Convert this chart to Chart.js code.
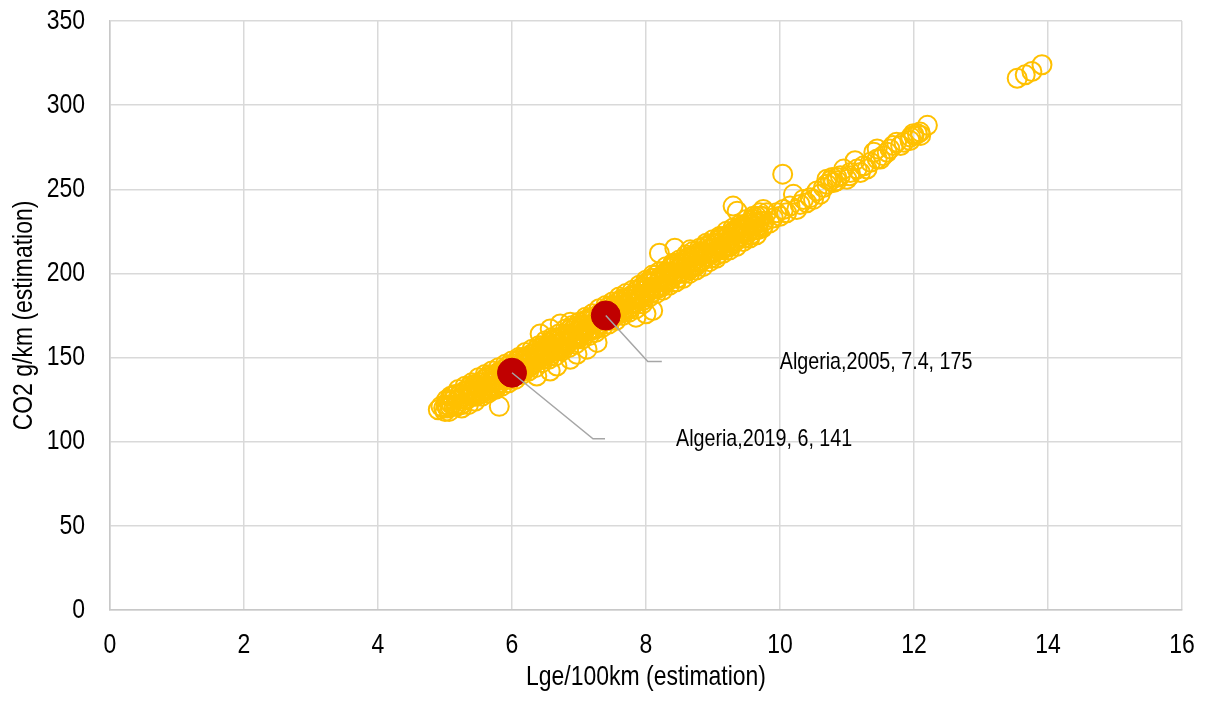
<!DOCTYPE html>
<html>
<head>
<meta charset="utf-8">
<script src="https://cdn.jsdelivr.net/npm/chart.js@4.4.1/dist/chart.umd.min.js"></script>
<style>
  html, body { margin: 0; padding: 0; background: #fff; }
  #wrap { width: 1208px; height: 704px; }
</style>
</head>
<body>
<div id="wrap"><canvas id="scatterChart" width="1208" height="704"></canvas></div>
<script>
// Arial Narrow look: Liberation Sans squeezed horizontally
const FONT = "'Liberation Sans', Arial, sans-serif";
const NARROW = 0.82;
const COLORS = {
  country: "#FFC000",
  highlight: "#C00000",
  grid: "#d9d9d9",
  axis: "#c8c8c8",
  leader: "#a6a6a6",
  text: "#000000",
};

// -------- data (Lge/100km, CO2 g/km)
const fuelX = [
  5.00, 5.05, 5.10, 5.15, 5.20, 5.25, 5.30, 5.35, 5.40, 5.45,
  5.50, 5.55, 5.60, 5.65, 5.70, 5.75, 5.80, 5.85, 5.90, 5.95,
  6.00, 6.05, 6.10, 6.15, 6.20, 6.25, 6.30, 6.35, 6.40, 6.45,
  6.50, 6.55, 6.60, 6.65, 6.70, 6.75, 6.80, 6.85, 6.90, 6.95,
  7.00, 7.05, 7.10, 7.15, 7.20, 7.25, 7.30, 7.35, 7.40, 7.45,
  7.50, 7.55, 7.60, 7.65, 7.70, 7.75, 7.80, 7.85, 7.90, 7.95,
  8.00, 8.05, 8.10, 8.15, 8.20, 8.25, 8.30, 8.35, 8.40, 8.45,
  8.50, 8.55, 8.60, 8.65, 8.70, 8.75, 8.80, 8.85, 8.90, 8.95,
  9.00, 9.05, 9.10, 9.15, 9.20, 9.25, 9.30, 9.35, 9.40, 9.45,
  9.50, 9.55, 9.60, 9.65, 9.70, 9.75, 9.80,
  5.025, 5.075, 5.125, 5.175, 5.225, 5.275, 5.325, 5.375, 5.425, 5.475,
  5.525, 5.575, 5.625, 5.675, 5.725, 5.775, 5.825, 5.875, 5.925, 5.975,
  6.025, 6.075, 6.125, 6.175, 6.225, 6.275, 6.325, 6.375, 6.425, 6.475,
  6.525, 6.575, 6.625, 6.675, 6.725, 6.775, 6.825, 6.875, 6.925, 6.975,
  7.025, 7.075, 7.125, 7.175, 7.225, 7.275, 7.325, 7.375, 7.425, 7.475,
  7.525, 7.575, 7.625, 7.675, 7.725, 7.775, 7.825, 7.875, 7.925, 7.975,
  8.025, 8.075, 8.125, 8.175, 8.225, 8.275, 8.325, 8.375, 8.425, 8.475,
  8.525, 8.575, 8.625, 8.675, 8.725, 8.775, 8.825, 8.875, 8.925, 8.975,
  9.025, 9.075, 9.125, 9.175, 9.225, 9.275, 9.325, 9.375, 9.425, 9.475,
  9.525, 9.575, 9.625, 9.675, 9.725,
  5.012, 5.062, 5.112, 5.162, 5.212, 5.262, 5.312, 5.362, 5.412, 5.462,
  5.512, 5.562, 5.612, 5.662, 5.712, 5.762, 5.812, 5.862, 5.912, 5.962,
  6.012, 6.062, 6.112, 6.162, 6.212, 6.262, 6.312, 6.362, 6.412, 6.462,
  6.512, 6.562, 6.612, 6.662, 6.712, 6.762, 6.812, 6.862, 6.912, 6.962,
  7.012, 7.062, 7.112, 7.162, 7.212, 7.262, 7.312, 7.362, 7.412, 7.462,
  7.512, 7.562, 7.612, 7.662, 7.712, 7.762, 7.812, 7.862, 7.912, 7.962,
  8.012, 8.062, 8.112, 8.162, 8.212, 8.262, 8.312, 8.362, 8.412, 8.462,
  8.512, 8.562, 8.612, 8.662, 8.712, 8.762, 8.812, 8.862, 8.912, 8.962,
  9.012, 9.062, 9.112, 9.162, 9.212, 9.262, 9.312, 9.362, 9.412, 9.462,
  9.512, 9.562, 9.612, 9.662, 9.712, 9.762,
  5.037, 5.087, 5.137, 5.187, 5.237, 5.287, 5.337, 5.387, 5.437, 5.487,
  5.537, 5.587, 5.637, 5.687, 5.737, 5.787, 5.837, 5.887, 5.937, 5.987,
  6.037, 6.087, 6.137, 6.187, 6.237, 6.287, 6.337, 6.387, 6.437, 6.487,
  6.537, 6.587, 6.637, 6.687, 6.737, 6.787, 6.837, 6.887, 6.937, 6.987,
  7.037, 7.087, 7.137, 7.187, 7.237, 7.287, 7.337, 7.387, 7.437, 7.487,
  7.537, 7.587, 7.637, 7.687, 7.737, 7.787, 7.837, 7.887, 7.937, 7.987,
  8.037, 8.087, 8.137, 8.187, 8.237, 8.287, 8.337, 8.387, 8.437, 8.487,
  8.537, 8.587, 8.637, 8.687, 8.737, 8.787, 8.837, 8.887, 8.937, 8.987,
  9.037, 9.087, 9.137, 9.187, 9.237, 9.287, 9.337, 9.387, 9.437, 9.487,
  9.537, 9.587, 9.637, 9.687, 9.737,
  5.20, 5.30, 5.40, 5.50, 5.60, 5.70, 5.80, 5.90, 6.00, 6.10,
  6.20, 6.30, 6.40, 6.50, 6.60, 6.70, 6.80, 6.90, 7.00, 7.10,
  7.20, 7.30, 7.40, 7.50, 7.60, 7.70, 7.80, 7.90, 8.00, 8.10,
  8.20, 8.30, 8.40, 8.50, 8.60, 8.70, 8.80, 8.90, 9.00, 9.10,
  9.20, 9.30, 9.40, 9.50, 9.60, 9.70,
  5.25, 5.35, 5.45, 5.55, 5.65, 5.75, 5.85, 5.95, 6.05, 6.15,
  6.25, 6.35, 6.45, 6.55, 6.65, 6.75, 6.85, 6.95, 7.05, 7.15,
  7.25, 7.35, 7.45, 7.55, 7.65, 7.75, 7.85, 7.95, 8.05, 8.15,
  8.25, 8.35, 8.45, 8.55, 8.65, 8.75, 8.85, 8.95, 9.05, 9.15,
  9.25, 9.35, 9.45, 9.55, 9.65,
  4.90, 4.94, 4.98, 5.81, 6.37, 6.57, 6.67, 6.87, 6.97, 7.12,
  7.27, 6.42, 6.57, 6.72, 6.87, 7.06, 7.85, 8.00, 8.10, 8.20,
  8.43, 8.66, 9.30, 9.36, 9.75, 10.04, 10.20,
  9.85, 9.90, 9.95, 10.00, 10.05, 10.10, 10.15, 10.25, 10.30, 10.35,
  10.40, 10.45, 10.50, 10.55, 10.60, 10.65, 10.70, 10.70, 10.75, 10.78,
  10.80, 10.85, 10.85, 10.90, 10.95, 11.00, 11.04, 11.05, 11.12, 11.15,
  11.20, 11.25, 11.30, 11.35, 11.40, 11.45, 11.45, 11.50, 11.54, 11.60,
  11.64, 11.69, 11.74, 11.80, 11.85, 11.94, 11.95, 11.99, 12.00, 12.05,
  12.09, 12.10, 12.20,
  13.54, 13.66, 13.76, 13.91,
];
const co2Y = [
  118, 124, 122, 128, 125, 122, 130, 129, 127, 134,
  128, 135, 133, 139, 136, 133, 141, 140, 138, 145,
  139, 145, 143, 150, 147, 144, 152, 151, 149, 157,
  151, 157, 155, 161, 158, 156, 164, 163, 161, 168,
  162, 169, 167, 173, 170, 167, 176, 175, 173, 180,
  174, 180, 179, 185, 182, 179, 187, 187, 185, 192,
  188, 194, 192, 199, 196, 193, 201, 200, 198, 206,
  200, 206, 204, 210, 207, 205, 213, 212, 210, 217,
  212, 218, 216, 222, 219, 216, 225, 224, 222, 229,
  223, 229, 228, 234, 231, 228, 236,
  125, 121, 125, 121, 128, 127, 125, 133, 129, 129,
  135, 131, 135, 131, 138, 137, 135, 143, 139, 140,
  146, 142, 146, 142, 149, 148, 147, 155, 151, 151,
  157, 153, 158, 154, 161, 160, 158, 167, 163, 163,
  169, 165, 169, 166, 173, 172, 170, 178, 175, 175,
  181, 177, 181, 177, 185, 184, 182, 190, 186, 186,
  195, 191, 195, 191, 198, 198, 196, 204, 200, 200,
  206, 203, 207, 203, 210, 209, 207, 216, 212, 212,
  218, 214, 218, 215, 222, 221, 219, 227, 224, 224,
  230, 226, 230, 226, 234,
  122, 118, 127, 122, 128, 126, 125, 131, 130, 127,
  133, 129, 138, 133, 139, 136, 135, 141, 140, 137,
  143, 140, 149, 144, 150, 147, 146, 153, 152, 149,
  155, 151, 160, 156, 162, 159, 158, 164, 163, 161,
  167, 163, 172, 167, 174, 171, 170, 176, 175, 172,
  179, 175, 184, 179, 185, 182, 182, 188, 187, 184,
  192, 188, 197, 192, 198, 196, 195, 201, 200, 197,
  204, 200, 209, 204, 210, 207, 207, 213, 212, 209,
  215, 211, 221, 216, 222, 219, 218, 225, 224, 221,
  227, 223, 232, 228, 234, 231,
  120, 127, 121, 125, 122, 130, 130, 128, 134, 132,
  130, 137, 131, 135, 132, 141, 141, 139, 145, 143,
  141, 148, 142, 146, 144, 152, 152, 150, 156, 154,
  153, 160, 154, 158, 155, 163, 164, 162, 168, 166,
  164, 172, 166, 170, 167, 175, 175, 174, 180, 178,
  176, 183, 177, 182, 179, 187, 187, 185, 192, 190,
  189, 197, 191, 195, 192, 200, 200, 199, 205, 203,
  201, 208, 202, 207, 204, 212, 212, 210, 217, 215,
  213, 220, 214, 218, 216, 224, 224, 222, 228, 226,
  225, 232, 226, 230, 227,
  131, 133, 135, 138, 140, 142, 144, 146, 148, 150,
  153, 155, 157, 160, 162, 164, 167, 169, 171, 174,
  176, 179, 181, 183, 186, 188, 190, 193, 196, 199,
  201, 204, 206, 208, 211, 213, 215, 218, 220, 222,
  225, 227, 229, 232, 234, 236,
  120, 122, 124, 127, 129, 131, 133, 135, 137, 140,
  142, 144, 147, 149, 151, 154, 156, 158, 161, 163,
  165, 168, 170, 172, 175, 177, 179, 182, 186, 188,
  190, 193, 195, 197, 200, 202, 204, 207, 209, 212,
  214, 216, 219, 221, 223,
  119, 121, 120, 121, 139, 142, 145, 149, 152, 155,
  159, 164, 167, 170, 171, 168, 174, 176, 178, 212,
  215, 214, 240, 237, 238, 259, 247,
  230, 233, 236, 234, 238, 236, 240, 238, 241, 244,
  242, 245, 244, 249, 247, 251, 253, 256, 255, 257,
  254, 257, 255, 258, 262, 256, 258, 260, 267, 262,
  260, 264, 262, 266, 272, 268, 274, 268, 270, 272,
  274, 276, 278, 276, 278, 279, 281, 283, 282, 283,
  284, 282, 288,
  316, 318, 320, 324,
];

// highlighted country-years
const hlX = [7.4, 6];
const hlY = [175, 141];
const hlLabel = ["Algeria,2005, 7.4, 175", "Algeria,2019, 6, 141"];
// leader line / label placement, pixels from the point
const hlOffset = [
  { elbowX: 42, endX: 56, dy: 46, textX: 174, textDy: 47 },
  { elbowX: 81, endX: 93, dy: 66, textX: 164, textDy: 67 },
];

const xTitle = "Lge/100km (estimation)";
const yTitle = "CO2 g/km (estimation)";

function narrowText(ctx, text, x, y, size, align, vertical) {
  ctx.save();
  ctx.translate(x, y);
  if (vertical) ctx.rotate(-Math.PI / 2);
  ctx.scale(NARROW, 1);
  ctx.font = size + "px " + FONT;
  ctx.fillStyle = COLORS.text;
  ctx.textAlign = align;
  ctx.textBaseline = "middle";
  ctx.fillText(text, 0, 0);
  ctx.restore();
}

// -------- axis text in narrow face, placed from the scales
const axisText = {
  id: "axisText",
  afterDraw(chart) {
    const { ctx, scales, chartArea } = chart;
    scales.x.ticks.forEach((t) => {
      narrowText(ctx, String(t.value), scales.x.getPixelForValue(t.value), chartArea.bottom + 35, 28, "center");
    });
    scales.y.ticks.forEach((t) => {
      narrowText(ctx, String(t.value), chartArea.left - 25, scales.y.getPixelForValue(t.value), 28, "right");
    });
    narrowText(ctx, xTitle, (chartArea.left + chartArea.right) / 2, chartArea.bottom + 67, 28, "center");
    narrowText(ctx, yTitle, 24, (chartArea.top + chartArea.bottom) / 2, 28, "center", true);
  },
};

// -------- leader lines + data labels
const leaderLabels = {
  id: "leaderLabels",
  afterDatasetsDraw(chart) {
    const { ctx, scales } = chart;
    hlX.forEach((vx, i) => {
      const px = scales.x.getPixelForValue(vx);
      const py = scales.y.getPixelForValue(hlY[i]);
      const o = hlOffset[i];
      ctx.save();
      ctx.strokeStyle = COLORS.leader;
      ctx.lineWidth = 1.5;
      ctx.beginPath();
      ctx.moveTo(px, py);
      ctx.lineTo(px + o.elbowX, py + o.dy);
      ctx.lineTo(px + o.endX, py + o.dy);
      ctx.stroke();
      ctx.restore();
      narrowText(ctx, hlLabel[i], px + o.textX, py + o.textDy, 24, "left");
    });
  },
};

new Chart(document.getElementById("scatterChart"), {
  type: "scatter",
  data: {
    datasets: [
      {
        label: "Algeria",
        data: hlX.map((x, i) => ({ x, y: hlY[i] })),
        pointRadius: 14.5,
        pointBackgroundColor: COLORS.highlight,
        pointBorderColor: COLORS.highlight,
        pointBorderWidth: 1,
        order: 0,
      },
      {
        label: "Countries",
        data: fuelX.map((x, i) => ({ x, y: co2Y[i] })),
        pointRadius: 9.5,
        pointBackgroundColor: "rgba(0,0,0,0)",
        pointBorderColor: COLORS.country,
        pointBorderWidth: 2,
        order: 1,
      },
    ],
  },
  options: {
    responsive: false,
    devicePixelRatio: 1,
    animation: false,
    events: [],
    layout: { padding: { top: 21, right: 26, left: 0, bottom: 0 } },
    plugins: { legend: { display: false }, tooltip: { enabled: false } },
    scales: {
      x: {
        type: "linear",
        min: 0,
        max: 16,
        ticks: { stepSize: 2, display: false },
        grid: { color: COLORS.grid, lineWidth: 1.5, drawTicks: false },
        border: { color: COLORS.axis, width: 1.5 },
        afterFit: (s) => { s.height = 94; },
      },
      y: {
        type: "linear",
        min: 0,
        max: 350,
        ticks: { stepSize: 50, display: false },
        grid: { color: COLORS.grid, lineWidth: 1.5, drawTicks: false },
        border: { color: COLORS.axis, width: 1.5 },
        afterFit: (s) => { s.width = 110; },
      },
    },
  },
  plugins: [leaderLabels, axisText],
});
</script>
</body>
</html>
